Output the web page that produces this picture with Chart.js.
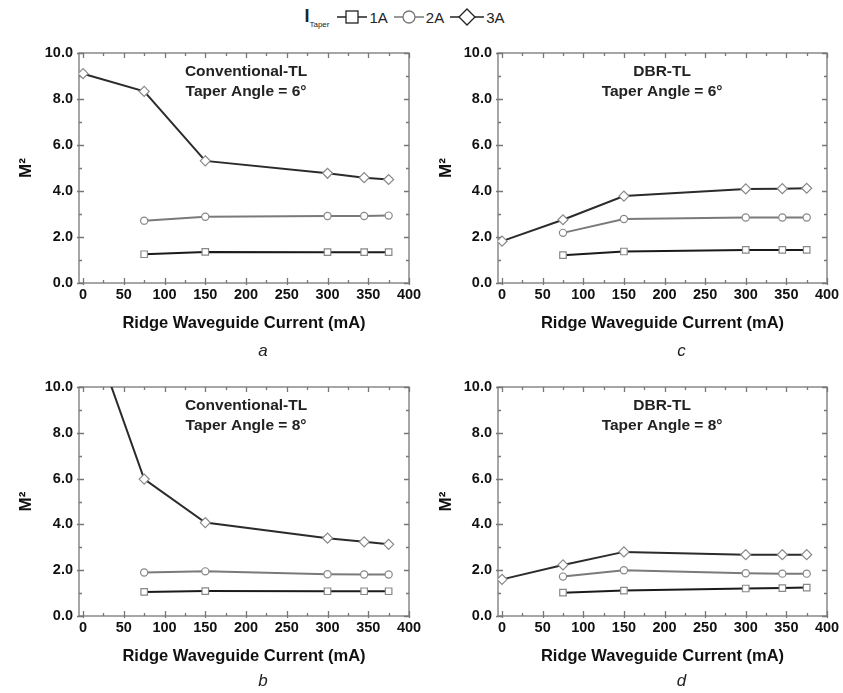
<!DOCTYPE html>
<html>
<head>
<meta charset="utf-8">
<script src="https://cdn.jsdelivr.net/npm/chart.js@4.4.0/dist/chart.umd.min.js"></script>
<style>
    body { margin: 0; background: #fff; }
    .figure { position: relative; width: 843px; height: 693px; overflow: hidden; }
    .figure canvas { position: absolute; }
    .legend {
        position: absolute; top: 6px; left: 0; width: 815px;
        display: flex; justify-content: center; align-items: center;
        font-family: 'Liberation Sans Narrow', 'Liberation Sans', Arial, sans-serif;
        font-size: 15px; color: #222;
    }
    .legend .itaper { font-size: 18px; font-weight: bold; margin-right: 8px; color: #222; }
    .legend .itaper sub { font-size: 8px; font-weight: normal; }
    .legend .item { display: flex; align-items: center; margin-right: 6px; }
    .legend svg { margin-right: 2px; }
</style>
</head>
<body>
<div class="figure">
    <div class="legend">
        <span class="itaper">I<sub>Taper</sub></span>
        <span class="item">
            <svg width="30" height="18"><line x1="0" y1="9" x2="30" y2="9" stroke="#222" stroke-width="1.5"/><rect x="9" y="3" width="12" height="12" fill="#fff" stroke="#222" stroke-width="1.3"/></svg>1A
        </span>
        <span class="item">
            <svg width="30" height="18"><line x1="0" y1="9" x2="30" y2="9" stroke="#777" stroke-width="1.5"/><circle cx="15" cy="9" r="6" fill="#fff" stroke="#777" stroke-width="1.3"/></svg>2A
        </span>
        <span class="item">
            <svg width="34" height="20"><line x1="0" y1="10" x2="34" y2="10" stroke="#222" stroke-width="1.5"/><polygon points="17,2 25,10 17,18 9,10" fill="#fff" stroke="#222" stroke-width="1.3"/></svg>3A
        </span>
    </div>
    <canvas id="chartA" width="430" height="320" style="left:0;top:40px"></canvas>
    <canvas id="chartC" width="423" height="320" style="left:420px;top:40px"></canvas>
    <canvas id="chartB" width="430" height="319" style="left:0;top:374px"></canvas>
    <canvas id="chartD" width="423" height="319" style="left:420px;top:374px"></canvas>
</div>
<script>
// Data
const currents = [0, 75, 150, 300, 345, 375];
const xTicks = [0, 50, 100, 150, 200, 250, 300, 350, 400];
const yTicks = [0, 2, 4, 6, 8, 10];

const conv6_1A = [null, 1.25, 1.35, 1.34, 1.34, 1.34];
const conv6_2A = [null, 2.71, 2.88, 2.91, 2.91, 2.93];
const conv6_3A = [9.10, 8.33, 5.31, 4.77, 4.58, 4.50];

const dbr6_1A = [null, 1.21, 1.37, 1.44, 1.44, 1.44];
const dbr6_2A = [null, 2.18, 2.78, 2.85, 2.85, 2.85];
const dbr6_3A = [1.82, 2.75, 3.78, 4.09, 4.10, 4.12];

const conv8_1A = [null, 1.05, 1.09, 1.08, 1.08, 1.08];
const conv8_2A = [null, 1.90, 1.95, 1.82, 1.81, 1.81];
const conv8_3A = [13.5, 5.98, 4.08, 3.40, 3.24, 3.13];

const dbr8_1A = [null, 1.02, 1.11, 1.20, 1.22, 1.24];
const dbr8_2A = [null, 1.72, 2.00, 1.87, 1.85, 1.85];
const dbr8_3A = [1.60, 2.23, 2.80, 2.68, 2.68, 2.68];

const FONT = "'Liberation Sans', Arial, sans-serif";
const AXIS_COLOR = '#777';

function toPoints(values) {
    const pts = [];
    values.forEach((v, i) => {
        if (v !== null) pts.push({ x: currents[i], y: v });
    });
    return pts;
}

function series(label, values, color, style, radius) {
    return {
        label: label,
        data: toPoints(values),
        borderColor: color,
        borderWidth: 2,
        pointStyle: style,
        pointRadius: radius,
        pointBorderColor: '#888',
        pointBorderWidth: 1.2,
        pointBackgroundColor: '#fff',
        tension: 0,
    };
}

// frame with inward ticks on all four sides
const frameTicks = {
    id: 'frameTicks',
    beforeDatasetsDraw(chart) {
        const { ctx, chartArea: { left, right, top, bottom }, scales: { x, y } } = chart;
        ctx.save();
        ctx.strokeStyle = AXIS_COLOR;
        ctx.lineWidth = 1.3;
        ctx.strokeRect(left, top, right - left, bottom - top);
        ctx.beginPath();
        for (let v = 0; v <= 400; v += 25) {
            const px = Math.round(x.getPixelForValue(v)) + 0.5;
            const major = v % 50 === 0;
            const len = major ? 5 : 3;
            ctx.moveTo(px, bottom + (major ? 2 : 0));
            ctx.lineTo(px, bottom - len);
            ctx.moveTo(px, top);
            ctx.lineTo(px, top + len);
        }
        for (let v = 0; v <= 10; v += 1) {
            const py = Math.round(y.getPixelForValue(v)) + 0.5;
            const major = v % 2 === 0;
            const len = major ? 5 : 3;
            ctx.moveTo(left - (major ? 2 : 0), py);
            ctx.lineTo(left + len, py);
            ctx.moveTo(right, py);
            ctx.lineTo(right - len, py);
        }
        ctx.stroke();
        ctx.restore();
    }
};

// text inside the panel and the panel letter below
const panelText = {
    id: 'panelText',
    afterDraw(chart, args, opts) {
        const { ctx, chartArea: { left, right, top, bottom }, scales: { x } } = chart;
        ctx.save();
        ctx.fillStyle = '#222';
        ctx.textAlign = 'center';
        ctx.textBaseline = 'middle';
        ctx.font = 'bold 15.5px ' + FONT;
        const cx = x.getPixelForValue(opts.textX);
        opts.lines.forEach((line, i) => {
            ctx.fillText(line, cx, top + 19 + i * 20);
        });
        ctx.font = 'italic 17px ' + FONT;
        ctx.fillText(opts.letter, (left + right) / 2 + 19, bottom + opts.letterGap);
        ctx.restore();
    }
};

function makePanel(id, yWidth, rightPad, sets, lines, textX, letter, letterGap) {
    return new Chart(document.getElementById(id), {
        type: 'line',
        data: {
            datasets: [
                series('1A', sets[0], '#1a1a1a', 'rect', 4.6),
                series('2A', sets[1], '#7a7a7a', 'circle', 3.6),
                series('3A', sets[2], '#2b2b2b', 'rectRot', 5),
            ]
        },
        options: {
            responsive: false,
            animation: false,
            layout: {
                padding: { top: 13, right: rightPad, bottom: 27, left: 0 }
            },
            scales: {
                x: {
                    type: 'linear',
                    min: -5,
                    max: 400,
                    grid: { display: false, drawTicks: false },
                    border: { display: false },
                    afterBuildTicks: (scale) => {
                        scale.ticks = xTicks.map(v => ({ value: v }));
                    },
                    afterFit: (scale) => {
                        scale.height = 50;
                        scale.paddingLeft = 0;
                        scale.paddingRight = 0;
                    },
                    ticks: {
                        padding: 3,
                        maxRotation: 0,
                        color: '#111',
                        font: { size: 14.5, weight: 'bold', family: FONT },
                    },
                    title: {
                        display: true,
                        text: 'Ridge Waveguide Current (mA)',
                        color: '#111',
                        padding: { top: 0, bottom: 0 },
                        font: { size: 16.5, weight: 'bold', family: FONT },
                    }
                },
                y: {
                    min: 0,
                    max: 10,
                    grid: { display: false, drawTicks: false },
                    border: { display: false },
                    afterBuildTicks: (scale) => {
                        scale.ticks = yTicks.map(v => ({ value: v }));
                    },
                    afterFit: (scale) => {
                        scale.width = yWidth;
                        scale.paddingTop = 0;
                        scale.paddingBottom = 0;
                    },
                    ticks: {
                        padding: 6,
                        color: '#111',
                        font: { size: 14.5, weight: 'bold', family: FONT },
                        callback: (value) => value.toFixed(1),
                    },
                    title: {
                        display: true,
                        text: 'M²',
                        color: '#111',
                        padding: { top: 16, bottom: 0 },
                        font: { size: 17, weight: 'bold', family: FONT },
                    }
                }
            },
            plugins: {
                legend: { display: false },
                tooltip: { enabled: false },
                panelText: { lines: lines, textX: textX, letter: letter, letterGap: letterGap },
            }
        },
        plugins: [frameTicks, panelText],
    });
}

makePanel('chartA', 79, 21, [conv6_1A, conv6_2A, conv6_3A],
    ['Conventional-TL', 'Taper Angle = 6°'], 200, 'a', 68);
makePanel('chartC', 78, 16, [dbr6_1A, dbr6_2A, dbr6_3A],
    ['DBR-TL', 'Taper Angle = 6°'], 197, 'c', 68);
makePanel('chartB', 79, 21, [conv8_1A, conv8_2A, conv8_3A],
    ['Conventional-TL', 'Taper Angle = 8°'], 200, 'b', 65);
makePanel('chartD', 78, 16, [dbr8_1A, dbr8_2A, dbr8_3A],
    ['DBR-TL', 'Taper Angle = 8°'], 197, 'd', 65);
</script>
</body>
</html>
